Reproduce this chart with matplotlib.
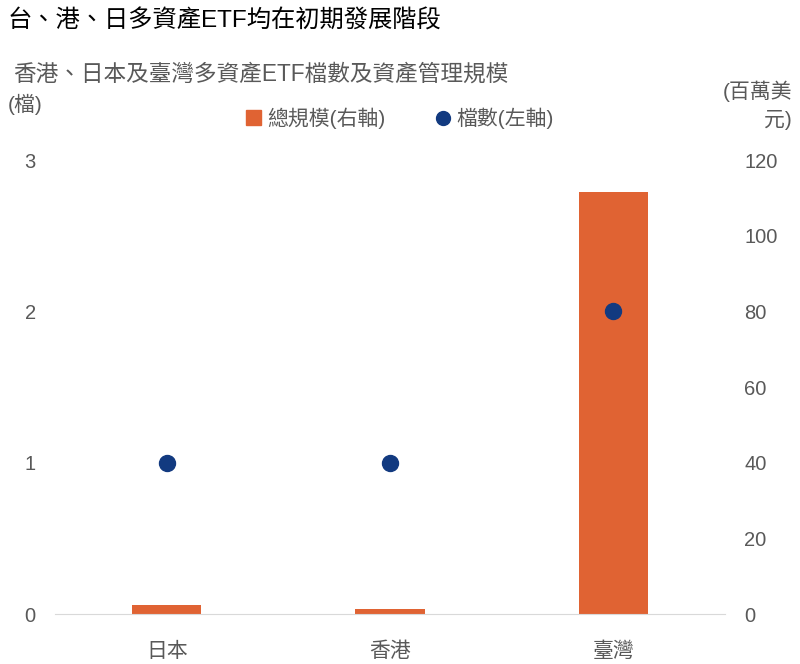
import matplotlib
matplotlib.use("Agg")
import matplotlib.pyplot as plt
from matplotlib.lines import Line2D
from matplotlib.patches import Patch

plt.rcParams['font.family'] = ['Liberation Sans', 'Noto Sans CJK TC', 'DejaVu Sans']

markets = ["日本", "香港", "臺灣"]
aum = [2.5, 1.2, 111.5]       # 總規模, 百萬美元 (right axis)
fund_count = [1, 1, 2]        # 檔數 (left axis)
left_ticks = [0, 1, 2, 3]
right_ticks = [0, 20, 40, 60, 80, 100, 120]

orange = "#E06333"
navy = "#123A80"
gray = "#595959"

fig = plt.figure(figsize=(8, 6.64), dpi=100)
ax = fig.add_axes([0.069, 0.0753, 0.837, 0.6837])
ax2 = ax.twinx()

x = list(range(len(markets)))
ax2.bar(x, aum, width=0.31, color=orange, zorder=1)
ax.plot(x, fund_count, "o", color=navy, markersize=11.5, zorder=3)

ax.set_zorder(ax2.get_zorder() + 1)
ax.patch.set_visible(False)

ax.set_xlim(-0.5, 2.5)
ax.set_ylim(0, 3)
ax2.set_ylim(0, 120)
ax.set_yticks(left_ticks)
ax2.set_yticks(right_ticks)
ax.set_xticks(x)
ax.set_xticklabels(markets)

for a in (ax, ax2):
    for s in a.spines.values():
        s.set_visible(False)
    a.tick_params(length=0, labelsize=14.5, colors=gray)
ax.spines["bottom"].set_visible(True)
ax.spines["bottom"].set_color("#D9D9D9")
ax.tick_params(axis="y", pad=14)
ax2.tick_params(axis="y", pad=14)
ax.tick_params(axis="x", pad=20, labelsize=15)

fig.text(0.01, 0.986, "台、港、日多資產ETF均在初期發展階段", fontsize=17.5,
         color="black", va="top", ha="left")
fig.text(0.016, 0.906, "香港、日本及臺灣多資產ETF檔數及資產管理規模", fontsize=16.3,
         color=gray, va="top", ha="left")
fig.text(0.01, 0.858, "(檔)", fontsize=15, color=gray, va="top", ha="left")
fig.text(0.99, 0.878, "(百萬美\n元)", fontsize=15, color=gray, va="top",
         ha="right", multialignment="right", linespacing=1.45)

handles = [
    Patch(color=orange, label="總規模(右軸)"),
    Line2D([], [], marker="o", color=navy, linestyle="none", markersize=10,
           label="檔數(左軸)"),
]
leg = fig.legend(handles=handles, loc="center", bbox_to_anchor=(0.5, 0.822),
                 ncol=2, frameon=False, fontsize=15, handlelength=0.7,
                 handletextpad=0.3, columnspacing=2.4)
for t in leg.get_texts():
    t.set_color(gray)

fig.savefig("out.png", dpi=100)
